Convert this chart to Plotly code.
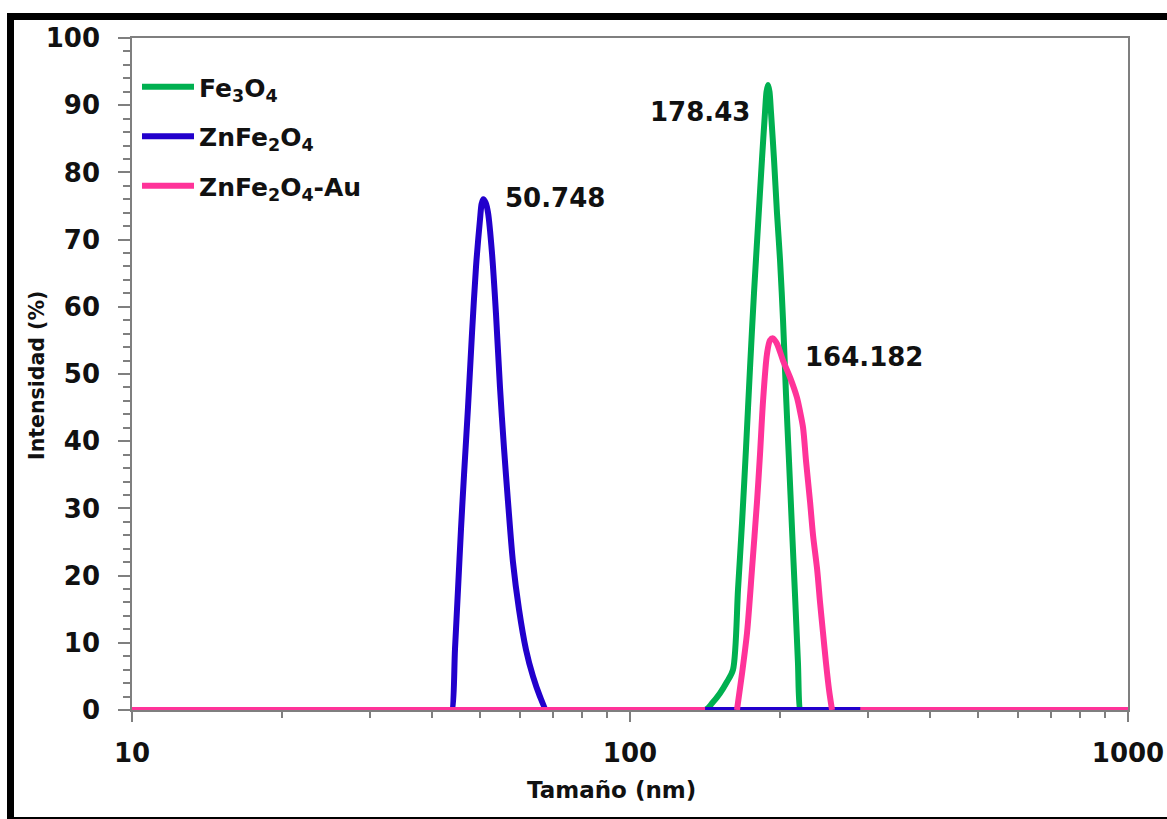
import plotly.graph_objects as go

# Particle size distributions (DLS), intensity in %
fe3o4_size = [10, 141.5, 146.1, 151.6, 156.6, 161.0, 164.8, 167.9, 171.0, 174.2, 177.4,
              180.7, 184.1, 186.7, 188.0, 189.3, 190.6, 191.9, 194.6, 197.3, 200.1,
              202.9, 205.7, 208.6, 211.5, 214.5, 217.4, 219.4, 220.0, 1000]
fe3o4_int = [0, 0, 1.0, 2.5, 4.2, 6.0, 18, 28, 39, 51, 62,
             72, 82, 89, 92, 93, 92, 89, 82, 74, 67,
             58, 47, 37, 27, 17, 7, 0, 0, 0]

znfe2o4_size = [10, 43.7, 43.92, 44.52, 45.15, 45.78, 46.42, 47.28, 48.16, 49.07, 49.98,
                50.35, 50.748, 51.3, 51.87, 52.83, 53.81, 54.82, 55.84, 56.89, 58.21,
                59.85, 61.82, 63.86, 65.96, 67.82, 68.1, 1000]
znfe2o4_int = [0, 0, 0, 9, 18, 27, 35, 45, 56, 66, 73,
               75.3, 76, 75.5, 74, 68, 59, 48, 39, 31, 22,
               15, 9, 5, 2, 0, 0, 0]

# None values leave the baseline open where the other series show through
znfe2o4au_size = [10, 141.5, 150, 164.0, 167.9, 171.8, 175.8, 179.9, 182.4, 185.0, 188.4,
                  191.0, 193.7, 197.3, 202.9, 209.6, 216.4, 219.4, 222.6, 225.7, 229.9,
                  233.1, 237.5, 240.8, 244.1, 247.5, 251.0, 254.5, 270, 290, 1000]
znfe2o4au_int = [0, 0, None, 0, 5.5, 11.5, 21, 31, 38, 46, 53,
                 55, 55.3, 54.5, 52, 49.5, 46.5, 44.5, 42, 37, 31,
                 26, 21, 16, 11.5, 7, 3, 0, None, 0, 0]

series_names = ["Fe<sub>3</sub>O<sub>4</sub>", "ZnFe<sub>2</sub>O<sub>4</sub>",
                "ZnFe<sub>2</sub>O<sub>4</sub>-Au"]
series_colors = ["#00B050", "#2200CC", "#FF3399"]

peak_labels = ["178.43", "50.748", "164.182"]

FONT = "DejaVu Sans"
W, H = 1167, 819
ML, MR, MT, MB = 132, 39, 38, 109
PW, PH = W - ML - MR, H - MT - MB


def paper_x(px):
    return (px - ML) / PW


def paper_y(py):
    return (H - MB - py) / PH


fig = go.Figure()
for name, color, xs, ys in zip(series_names, series_colors,
                               [fe3o4_size, znfe2o4_size, znfe2o4au_size],
                               [fe3o4_int, znfe2o4_int, znfe2o4au_int]):
    fig.add_trace(go.Scatter(
        x=xs, y=ys, mode="lines", name=name, legendgroup=name,
        line=dict(color=color, width=6, shape="spline", smoothing=0.8),
        connectgaps=False,
    ))

# value labels next to each peak (x in log10 units)
label_font = dict(family=FONT, size=26, color="#111", weight="bold")
fig.add_annotation(x=2.245, y=89, xref="x", yref="y", text=peak_labels[0],
                   showarrow=False, xanchor="right", yanchor="middle", font=label_font)
fig.add_annotation(x=1.745, y=76.2, xref="x", yref="y", text=peak_labels[1],
                   showarrow=False, xanchor="left", yanchor="middle", font=label_font)
fig.add_annotation(x=2.347, y=52.5, xref="x", yref="y", text=peak_labels[2],
                   showarrow=False, xanchor="left", yanchor="middle", font=label_font)

# axis titles
fig.add_annotation(x=paper_x(611.5), y=paper_y(790), xref="paper", yref="paper",
                   text="Tamaño (nm)", showarrow=False, xanchor="center", yanchor="middle",
                   font=dict(family=FONT, size=23, color="#111", weight="bold"))
fig.add_annotation(x=paper_x(37), y=paper_y(376), xref="paper", yref="paper",
                   text="Intensidad (%)", textangle=-90, showarrow=False,
                   xanchor="center", yanchor="middle",
                   font=dict(family=FONT, size=20.5, color="#111", weight="bold"))

# black frame around the chart
frame = [
    dict(x0=paper_x(10.5), x1=paper_x(10.5), y0=paper_y(13), y1=paper_y(H), width=7),
    dict(x0=paper_x(7), x1=paper_x(W + 5), y0=paper_y(16.5), y1=paper_y(16.5), width=7),
    dict(x0=paper_x(7), x1=paper_x(W + 5), y0=paper_y(818), y1=paper_y(818), width=2),
]
for f in frame:
    fig.add_shape(type="line", xref="paper", yref="paper",
                  x0=f["x0"], x1=f["x1"], y0=f["y0"], y1=f["y1"],
                  line=dict(color="black", width=f["width"]))

axis_gray = "#7F7F7F"
tick_font = dict(family=FONT, size=26, color="#111", weight="bold")
fig.update_layout(
    width=W, height=H,
    margin=dict(l=ML, r=MR, t=MT, b=MB, autoexpand=False),
    paper_bgcolor="white", plot_bgcolor="white",
    font=dict(family=FONT, color="#111"),
    showlegend=True,
    legend=dict(x=paper_x(137), y=paper_y(64), xanchor="left", yanchor="top",
                bgcolor="rgba(0,0,0,0)", tracegroupgap=14, itemwidth=52,
                font=dict(family=FONT, size=25, color="#111", weight="bold")),
    xaxis=dict(
        type="log", range=[1, 3], dtick=1,
        showgrid=False, zeroline=False,
        showline=True, linecolor=axis_gray, linewidth=1.5, mirror=True,
        ticks="outside", ticklen=10, tickwidth=1.5, tickcolor=axis_gray,
        ticklabelstandoff=9,
        tickfont=tick_font,
        minor=dict(ticks="outside", ticklen=6, tickwidth=1.5, tickcolor=axis_gray,
                   dtick="D1", showgrid=False),
    ),
    yaxis=dict(
        range=[0, 100], dtick=10,
        showgrid=False, zeroline=False,
        showline=True, linecolor=axis_gray, linewidth=1.5, mirror=True,
        ticks="outside", ticklen=12, tickwidth=1.5, tickcolor=axis_gray,
        ticklabelstandoff=13,
        tickfont=tick_font,
        minor=dict(ticks="outside", ticklen=7, tickwidth=1.5, tickcolor=axis_gray,
                   dtick=2, showgrid=False),
    ),
)

fig.write_html("out.html")
